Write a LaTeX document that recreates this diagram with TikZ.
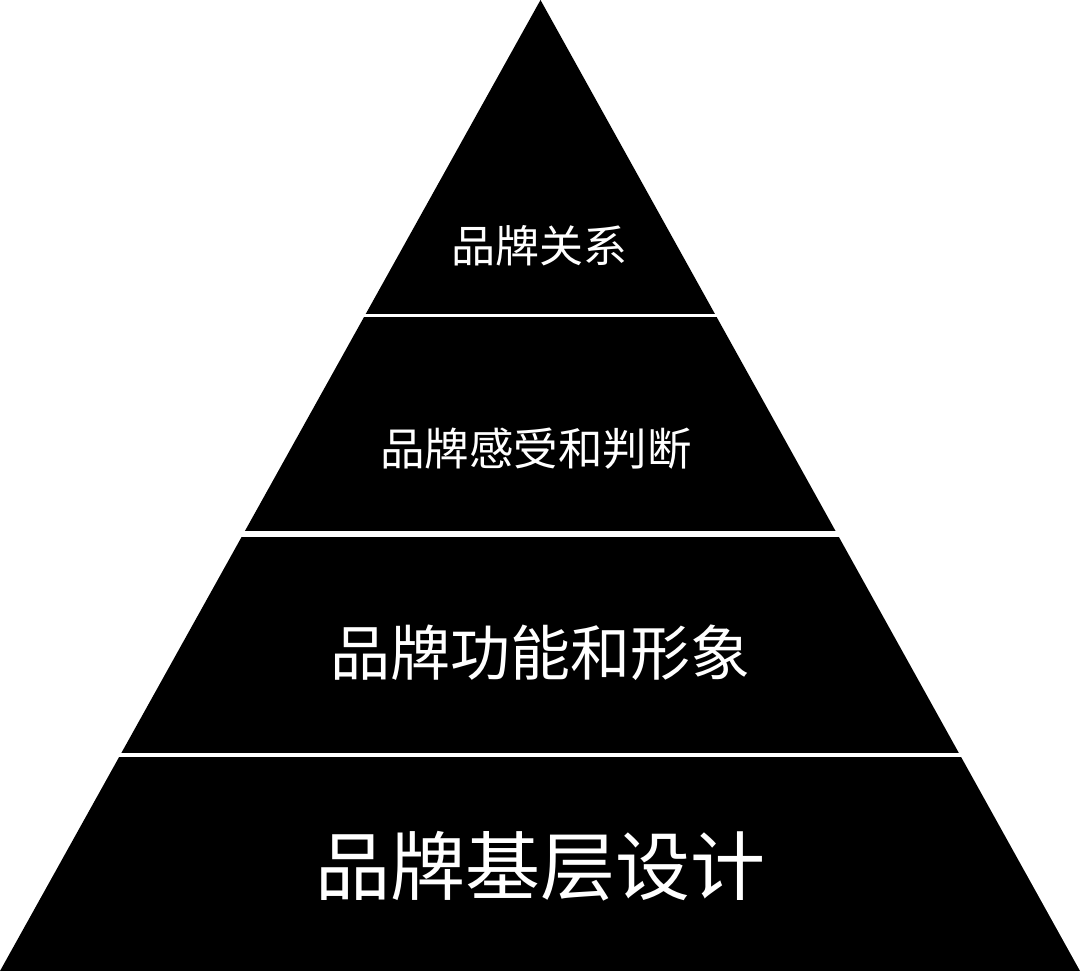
\documentclass[tikz,border=0pt]{standalone}
\usepackage{fontspec}
\newfontfamily\cjk{Noto Sans CJK SC}
\tikzset{
  lbl/.style={text=white, inner sep=0pt, anchor=center, font=\cjk},
  gap/.style={fill=white, draw=none}
}
\begin{document}
\begin{tikzpicture}[x=1pt,y=-1pt]
\fill[white] (0,0) rectangle (1080,971);
\useasboundingbox (0,0) rectangle (1080,971);
% pyramid
\fill[black] (540.5,0) -- (1080,971) -- (0,971) -- cycle;
% white separating gaps
\fill[gap] (-5,313.5) rectangle (1085,317.2);
\fill[gap] (-5,530.8) rectangle (1085,536.7);
\fill[gap] (-5,752.8) rectangle (1085,756.7);
% labels
\node[lbl, font=\cjk\fontsize{44}{48}\selectfont] (t1) at (539,246) {品牌关系};
\node[lbl, font=\cjk\fontsize{44.5}{48}\selectfont] (t2) at (536,449) {品牌感受和判断};
\node[lbl, font=\cjk\fontsize{60}{64}\selectfont] (t3) at (540,653) {品牌功能和形象};
\node[lbl, font=\cjk\fontsize{75}{80}\selectfont] (t4) at (540,866) {品牌基层设计};
\end{tikzpicture}
\end{document}
